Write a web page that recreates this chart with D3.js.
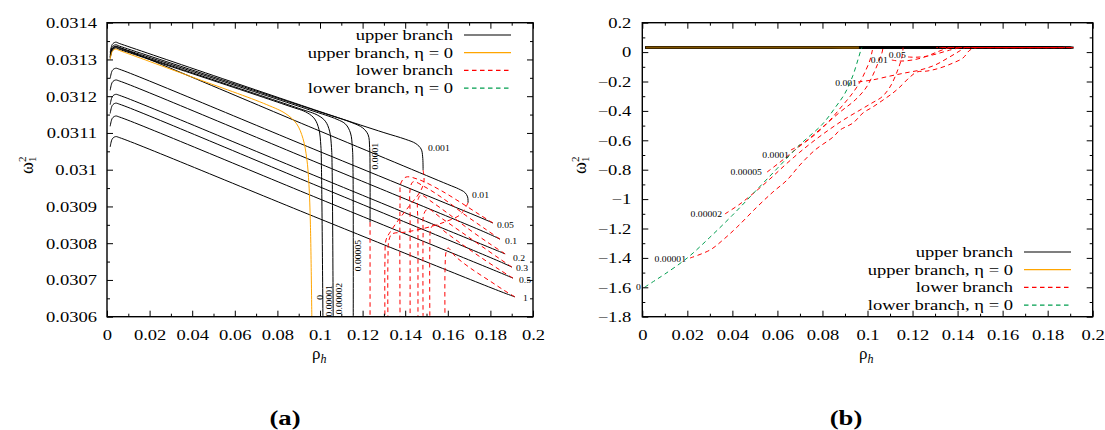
<!DOCTYPE html>
<html>
<head>
<meta charset="utf-8">
<script src="https://cdn.jsdelivr.net/npm/d3@7"></script>
<style>
  body { margin: 0; background: #fff; }
  svg text { font-family: "Liberation Serif", "DejaVu Serif", "Times New Roman", serif; fill: #000; }
</style>
</head>
<body>
<svg id="chart" width="1105" height="430"></svg>
<script>
/* ------------------ data ------------------ */

const xTicks = [0, 0.02, 0.04, 0.06, 0.08, 0.1, 0.12, 0.14, 0.16, 0.18, 0.2];
const xTickLabels = ["0", "0.02", "0.04", "0.06", "0.08", "0.1", "0.12", "0.14", "0.16", "0.18", "0.2"];

const yTicksA = [0.0306, 0.0307, 0.0308, 0.0309, 0.031, 0.0311, 0.0312, 0.0313, 0.0314];
const yTickLabelsA = ["0.0306", "0.0307", "0.0308", "0.0309", "0.031", "0.0311", "0.0312", "0.0313", "0.0314"];

const yTicksB = [-1.8, -1.6, -1.4, -1.2, -1, -0.8, -0.6, -0.4, -0.2, 0, 0.2];
const yTickLabelsB = ["\u22121.8", "\u22121.6", "\u22121.4", "\u22121.2", "\u22121", "\u22120.8", "\u22120.6", "\u22120.4", "\u22120.2", "0", "0.2"];

const legendNames = ["upper branch", "upper branch, \u03b7 = 0", "lower branch", "lower branch, \u03b7 = 0"];

// upper branch, [rho_h, omega_1^2]
const upper_1 = [[0.0015, 0.031062], [0.0025, 0.031084], [0.004, 0.031090], [0.006, 0.031087], [0.1, 0.030866], [0.185, 0.030668], [0.1915, 0.030654]];
const upper_0p5 = [[0.0015, 0.031118], [0.0025, 0.031140], [0.004, 0.031146], [0.006, 0.031143], [0.1, 0.030920], [0.184, 0.030721], [0.1906, 0.030705]];
const upper_0p3 = [[0.0015, 0.031153], [0.0025, 0.031175], [0.004, 0.031181], [0.006, 0.031178], [0.1, 0.030953], [0.184, 0.030751], [0.1901, 0.030735]];
const upper_0p2 = [[0.0015, 0.031177], [0.0025, 0.031199], [0.004, 0.031205], [0.006, 0.031202], [0.1, 0.030978], [0.181, 0.030785], [0.1869, 0.030771]];
const upper_0p1 = [[0.0015, 0.031216], [0.0025, 0.031238], [0.004, 0.031244], [0.006, 0.031241], [0.1, 0.031016], [0.179, 0.030826], [0.1845, 0.030811]];
const upper_0p05 = [[0.0015, 0.031248], [0.0025, 0.031270], [0.004, 0.031276], [0.006, 0.031273], [0.1, 0.031049], [0.176, 0.030868], [0.1812, 0.030855]];
const upper_0p01 = [[0.0015, 0.031307], [0.0025, 0.031329], [0.004, 0.031335], [0.006, 0.031332], [0.1, 0.031105], [0.16, 0.030960], [0.165, 0.030948], [0.168, 0.030938], [0.1693, 0.030926], [0.1695, 0.030910]];
const upper_0p001 = [[0.0015, 0.031319], [0.0025, 0.031341], [0.004, 0.031347], [0.006, 0.031343], [0.1047, 0.031149], [0.13, 0.031101], [0.14, 0.031083], [0.145, 0.031071], [0.1475, 0.031056], [0.1482, 0.031035], [0.1484, 0.030999]];
const upper_1e4 = [[0.0015, 0.031312], [0.0025, 0.031334], [0.004, 0.031340], [0.006, 0.031336], [0.1, 0.031157], [0.115, 0.031128], [0.12, 0.031114], [0.1226, 0.031095], [0.1233, 0.031060], [0.1235, 0.031000], [0.1235, 0.030857]];
const upper_5e5 = [[0.0015, 0.031308], [0.0025, 0.031330], [0.004, 0.031336], [0.006, 0.031332], [0.095, 0.031163], [0.108, 0.031137], [0.112, 0.031124], [0.1143, 0.031100], [0.1152, 0.031060], [0.1155, 0.031000], [0.1156, 0.030580]];
const upper_2e5 = [[0.0015, 0.031305], [0.0025, 0.031327], [0.004, 0.031333], [0.006, 0.031329], [0.09, 0.031167], [0.099, 0.031148], [0.1025, 0.031132], [0.1045, 0.031105], [0.1054, 0.031060], [0.1057, 0.031000], [0.1062, 0.030580]];
const upper_1e5 = [[0.0015, 0.031303], [0.0025, 0.031325], [0.004, 0.031331], [0.006, 0.031327], [0.085, 0.031174], [0.094, 0.031155], [0.0975, 0.031138], [0.0995, 0.031110], [0.1004, 0.031065], [0.1007, 0.031000], [0.1014, 0.030580]];
const upper_eta0 = [[0.0015, 0.031300], [0.0025, 0.031322], [0.004, 0.031328], [0.006, 0.031324], [0.04, 0.031252], [0.075, 0.031177], [0.084, 0.031152], [0.089, 0.031125], [0.092, 0.031085], [0.0938, 0.031030], [0.0948, 0.030960], [0.0955, 0.030850], [0.0962, 0.030580]];

// lower branch near the turning points
const lower_1 = [[0.1915, 0.030654], [0.1869, 0.030670], [0.1798, 0.030697], [0.1704, 0.030733], [0.1634, 0.030765], [0.1601, 0.030787], [0.1592, 0.030776], [0.1587, 0.030727], [0.1587, 0.030580]];
const lower_0p5 = [[0.1906, 0.030705], [0.1845, 0.030727], [0.1751, 0.030763], [0.1657, 0.030801], [0.1587, 0.030831], [0.1540, 0.030852], [0.1521, 0.030841], [0.1516, 0.030795], [0.1516, 0.030580]];
const lower_0p3 = [[0.1901, 0.030735], [0.1845, 0.030757], [0.1751, 0.030795], [0.1657, 0.030833], [0.1563, 0.030871], [0.1507, 0.030893], [0.1488, 0.030880], [0.1484, 0.030822], [0.1484, 0.030580]];
const lower_0p2 = [[0.1869, 0.030771], [0.1798, 0.030798], [0.1704, 0.030836], [0.1610, 0.030877], [0.1526, 0.030912], [0.1474, 0.030931], [0.1460, 0.030918], [0.1460, 0.030850], [0.1460, 0.030580]];
const lower_0p1 = [[0.1845, 0.030811], [0.1775, 0.030839], [0.1681, 0.030877], [0.1587, 0.030918], [0.1493, 0.030953], [0.1437, 0.030967], [0.1423, 0.030945], [0.1423, 0.030877], [0.1423, 0.030580]];
const lower_0p05 = [[0.1812, 0.030855], [0.1751, 0.030877], [0.1657, 0.030912], [0.1563, 0.030945], [0.1469, 0.030972], [0.1404, 0.030980], [0.1380, 0.030964], [0.1376, 0.030918], [0.1376, 0.030580]];
const lower_0p01 = [[0.1695, 0.030910], [0.1685, 0.030899], [0.1657, 0.030877], [0.1587, 0.030858], [0.1493, 0.030841], [0.1399, 0.030830], [0.1338, 0.030825], [0.1324, 0.030809], [0.1319, 0.030754], [0.1319, 0.030580]];
const lower_0p001 = [[0.1484, 0.030999], [0.1488, 0.030966], [0.1469, 0.030939], [0.1423, 0.030904], [0.1376, 0.030869], [0.1329, 0.030830], [0.1310, 0.030809], [0.1305, 0.030754], [0.1305, 0.030580]];
const lower_1e4 = [[0.1235, 0.030857], [0.1235, 0.030580]];

// lower branch, full range (panel b)
const deep_1e5 = [[0.0212, -1.401], [0.0301, -1.346], [0.0358, -1.278], [0.0421, -1.190], [0.0509, -1.054], [0.0580, -0.952], [0.0643, -0.870], [0.0700, -0.768], [0.0767, -0.666], [0.0847, -0.578], [0.0878, -0.530], [0.0936, -0.482], [0.0980, -0.414], [0.1024, -0.373], [0.1069, -0.326], [0.1113, -0.278], [0.1144, -0.237], [0.1189, -0.169], [0.1220, -0.135], [0.1264, -0.129], [0.1322, -0.108], [0.1380, -0.074], [0.1424, -0.040], [0.1455, 0.014], [0.1486, 0.031]];
const deep_2e5 = [[0.0367, -1.101], [0.0434, -1.033], [0.0500, -0.952], [0.0567, -0.863], [0.0634, -0.768], [0.0700, -0.680], [0.0767, -0.598], [0.0834, -0.523], [0.0900, -0.455], [0.0967, -0.394], [0.1020, -0.346], [0.1064, -0.305], [0.1100, -0.237], [0.1131, -0.135], [0.1153, -0.033], [0.1158, 0.031]];
const deep_5e5 = [[0.0554, -0.816], [0.0612, -0.748], [0.0678, -0.666], [0.0745, -0.584], [0.0811, -0.496], [0.0878, -0.408], [0.0945, -0.326], [0.0993, -0.244], [0.1024, -0.156], [0.1047, -0.074], [0.1064, -0.006], [0.1069, 0.031]];
const deep_1e4 = [[0.0660, -0.666], [0.0723, -0.612], [0.0780, -0.544], [0.0834, -0.462], [0.0887, -0.367], [0.0931, -0.285], [0.0967, -0.203], [0.0993, -0.122], [0.1011, -0.054], [0.1020, 0.001], [0.1024, 0.031]];
const deep_1e3 = [[0.0958, -0.203], [0.1020, -0.190], [0.1100, -0.163], [0.1166, -0.142], [0.1233, -0.122], [0.1300, -0.088], [0.1357, -0.040], [0.1402, 0.001], [0.1433, 0.031]];
const deep_1e2 = [[0.1108, -0.054], [0.1144, -0.061], [0.1198, -0.054], [0.1255, -0.033], [0.1309, 0.001], [0.1344, 0.021], [0.1366, 0.031]];
const deep_5e2 = [[0.1180, -0.033], [0.1211, -0.035], [0.1255, -0.030], [0.1300, -0.015], [0.1357, 0.010], [0.1411, 0.031]];

// lower branch, eta = 0
const lowerEta0 = [[0.001, -1.60], [0.005, -1.56], [0.01, -1.51], [0.02, -1.40], [0.03, -1.26], [0.04, -1.11], [0.05, -0.95], [0.06, -0.79], [0.07, -0.63], [0.08, -0.49], [0.086, -0.37], [0.09, -0.28], [0.0935, -0.16], [0.0958, -0.05], [0.0972, 0.02], [0.0975, 0.031]];

// eta labels on the curves: [text, rho_h, omega_1^2]
const etaLabelsA = [["0.001", 0.1507, 0.031051], ["0.01", 0.1714, 0.030923], ["0.05", 0.1831, 0.030841], ["0.1", 0.1869, 0.030798],
  ["0.2", 0.1906, 0.030752], ["0.3", 0.1920, 0.030724], ["0.5", 0.1934, 0.030692], ["1", 0.1953, 0.030643]];
// vertical labels: [text, rho_h at right edge, omega_1^2 at top]
const etaLabelsAVert = [["0.0001", 0.1272, 0.031073], ["0.00005", 0.1192, 0.030809], ["0.00002", 0.1103, 0.030692],
  ["0.00001", 0.1056, 0.030686], ["0", 0.1014, 0.030659]];
const etaLabelsB = [["0", -0.0006, -1.618], ["0.00001", 0.0194, -1.428], ["0.00002", 0.0354, -1.122], ["0.00005", 0.0531, -0.836],
  ["0.0001", 0.0651, -0.720], ["0.001", 0.0953, -0.231], ["0.01", 0.1090, -0.074], ["0.05", 0.1170, -0.040]];

const upperBlack = [upper_1, upper_0p5, upper_0p3, upper_0p2, upper_0p1, upper_0p05, upper_0p01, upper_0p001, upper_1e4, upper_5e5, upper_2e5, upper_1e5];
const lowerRed = [lower_1, lower_0p5, lower_0p3, lower_0p2, lower_0p1, lower_0p05, lower_0p01, lower_0p001, lower_1e4];
const deepRed = [deep_1e5, deep_2e5, deep_5e5, deep_1e4, deep_1e3, deep_1e2, deep_5e2];

/* ------------------ styles ------------------ */

const FONT = "Liberation Serif, DejaVu Serif, Times New Roman, serif";
const BLACK = "#000000";
const ORANGE = "#ffa500";
const RED = "#ff0000";
const GREEN = "#009e4f";
const DASH = "4.5,3.5";
const seriesStyles = [
  { stroke: BLACK, dash: null },
  { stroke: ORANGE, dash: null },
  { stroke: RED, dash: DASH },
  { stroke: GREEN, dash: DASH }
];

const svg = d3.select("#chart");

// the reference type is wide: stretch whatever serif face we get so that
// "0.0314" at 15px is about 51px wide
const probe = svg.append("text").attr("font-size", 15).attr("font-family", FONT).text("0.0314");
const SX = Math.max(0.9, Math.min(1.4, 51 / probe.node().getComputedTextLength()));
probe.remove();

function label(g, x, y, str, { size = 15, anchor = "start", rotate = 0, weight = "normal", sx = SX } = {}) {
  return g.append("text")
    .attr("transform", `translate(${x},${y}) rotate(${rotate}) scale(${sx},1)`)
    .attr("text-anchor", anchor)
    .attr("font-family", FONT)
    .attr("font-size", size)
    .attr("font-weight", weight)
    .text(str);
}

function stretchText(sel) {
  sel.selectAll("text").each(function () {
    const t = d3.select(this);
    const x = +t.attr("x") || 0;
    t.attr("x", x / SX).attr("transform", `scale(${SX},1)`).attr("font-size", 15)
      .attr("font-family", FONT);
  });
}

/* ------------------ axes ------------------ */

function drawAxes(x, y, yTicks, yLabels, yPad) {
  const [x0, x1] = x.range();
  const [y0, y1] = y.range();
  const xMinor = d3.pairs(xTicks).map(([a, b]) => (a + b) / 2);
  const yMinor = d3.pairs(yTicks).map(([a, b]) => (a + b) / 2);
  const g = svg.append("g");

  const bottom = g.append("g").attr("transform", `translate(0,${y0})`)
    .call(d3.axisBottom(x).tickValues(xTicks).tickFormat((d, i) => xTickLabels[i]).tickSize(-6).tickPadding(13));
  g.append("g").attr("transform", `translate(0,${y0})`)
    .call(d3.axisBottom(x).tickValues(xMinor).tickFormat("").tickSize(-3));
  g.append("g").attr("transform", `translate(0,${y1})`)
    .call(d3.axisTop(x).tickValues(xTicks).tickFormat("").tickSize(-6));
  g.append("g").attr("transform", `translate(0,${y1})`)
    .call(d3.axisTop(x).tickValues(xMinor).tickFormat("").tickSize(-3));

  const left = g.append("g").attr("transform", `translate(${x0},0)`)
    .call(d3.axisLeft(y).tickValues(yTicks).tickFormat((d, i) => yLabels[i]).tickSize(-6).tickPadding(yPad));
  g.append("g").attr("transform", `translate(${x0},0)`)
    .call(d3.axisLeft(y).tickValues(yMinor).tickFormat("").tickSize(-3));
  g.append("g").attr("transform", `translate(${x1},0)`)
    .call(d3.axisRight(y).tickValues(yTicks).tickFormat("").tickSize(-6));
  g.append("g").attr("transform", `translate(${x1},0)`)
    .call(d3.axisRight(y).tickValues(yMinor).tickFormat("").tickSize(-3));

  g.selectAll(".domain").remove();
  g.selectAll(".tick line").attr("stroke", "#000").attr("stroke-width", 1);
  stretchText(bottom);
  stretchText(left);

  g.append("rect")
    .attr("x", x0).attr("y", y1)
    .attr("width", x1 - x0).attr("height", y0 - y1)
    .attr("fill", "none").attr("stroke", "#000").attr("stroke-width", 1.4);
}

function clipGroup(id, x, y) {
  const [x0, x1] = x.range();
  const [y0, y1] = y.range();
  svg.append("clipPath").attr("id", id)
    .append("rect").attr("x", x0).attr("y", y1).attr("width", x1 - x0).attr("height", y0 - y1);
  return svg.append("g").attr("clip-path", `url(#${id})`);
}

function drawSeries(g, x, y, list, style, width = 1, opacity = 1) {
  const line = d3.line()
    .x(d => x(d[0]))
    .y(d => y(d[1]))
    .curve(d3.curveCatmullRom.alpha(0.5));
  g.selectAll(null)
    .data(list)
    .join("path")
    .attr("d", line)
    .attr("fill", "none")
    .attr("stroke", style.stroke)
    .attr("stroke-width", width)
    .attr("stroke-opacity", opacity)
    .attr("stroke-dasharray", style.dash);
}

function drawLegend(xText, xl0, xl1, yTop, step) {
  const g = svg.append("g");
  legendNames.forEach((name, i) => {
    const yc = yTop + i * step;
    label(g, xText, yc + 5, name, { anchor: "end" });
    g.append("line")
      .attr("x1", xl0).attr("x2", xl1).attr("y1", yc).attr("y2", yc)
      .attr("stroke", seriesStyles[i].stroke)
      .attr("stroke-width", 1.2)
      .attr("stroke-dasharray", seriesStyles[i].dash);
  });
}

function yLabel(xBase, yc) {
  const g = svg.append("g").attr("transform", `translate(${xBase},${yc}) rotate(-90)`)
    .attr("font-family", FONT);
  g.append("text").attr("x", 0).attr("y", 0).attr("text-anchor", "middle").attr("font-size", 18).text("\u03c9");
  g.append("text").attr("x", 6).attr("y", -7).attr("font-size", 11).text("2");
  g.append("text").attr("x", 6).attr("y", 3).attr("font-size", 11).text("1");
}

function xLabel(xc, yb) {
  const t = svg.append("text").attr("x", xc - 8).attr("y", yb)
    .attr("font-family", FONT).attr("font-size", 17);
  t.append("tspan").text("\u03c1");
  t.append("tspan").attr("font-style", "italic").attr("font-size", 12).attr("dy", 4).text("h");
}

/* ------------------ panel (a) ------------------ */

const xA = d3.scaleLinear().domain([0, 0.2]).range([107, 533]);
const yA = d3.scaleLinear().domain([0.0306, 0.0314]).range([316.7, 22.7]);

const plotA = clipGroup("clipA", xA, yA);
drawSeries(plotA, xA, yA, upperBlack, seriesStyles[0]);
drawSeries(plotA, xA, yA, [upper_eta0], seriesStyles[1]);
drawSeries(plotA, xA, yA, lowerRed, seriesStyles[2]);

const labA = svg.append("g");
etaLabelsA.forEach(([t, r, w]) => label(labA, xA(r), yA(w), t, { size: 8.5, sx: SX * 0.92 }));
etaLabelsAVert.forEach(([t, r, w]) => label(labA, xA(r), yA(w), t, { size: 8.5, sx: SX * 0.92, rotate: -90, anchor: "end" }));

drawAxes(xA, yA, yTicksA, yTickLabelsA, 10);
drawLegend(453, 464, 511, 35, 17.7);
yLabel(33, 168);
xLabel(320, 359);
label(svg, 285, 425, "(a)", { size: 20, weight: "bold", anchor: "middle", sx: SX * 1.08 });

/* ------------------ panel (b) ------------------ */

const xB = d3.scaleLinear().domain([0, 0.2]).range([642.3, 1092.7]);
const yB = d3.scaleLinear().domain([-1.8, 0.2]).range([316.7, 22.7]);

const plotB = clipGroup("clipB", xB, yB);
drawSeries(plotB, xB, yB, upperBlack, seriesStyles[0], 2.2);
drawSeries(plotB, xB, yB, [upper_eta0], seriesStyles[1], 2.2, 0.5);
drawSeries(plotB, xB, yB, lowerRed.concat(deepRed), seriesStyles[2]);
drawSeries(plotB, xB, yB, [lowerEta0], seriesStyles[3]);

const labB = svg.append("g");
etaLabelsB.forEach(([t, r, w]) => label(labB, xB(r), yB(w), t, { size: 8.5, sx: SX * 0.92, anchor: "end" }));

drawAxes(xB, yB, yTicksB, yTickLabelsB, 11);
drawLegend(1013, 1024, 1071, 252, 17.7);
yLabel(586, 168);
xLabel(867, 359);
label(svg, 846, 425, "(b)", { size: 20, weight: "bold", anchor: "middle", sx: SX * 1.08 });
</script>
</body>
</html>
